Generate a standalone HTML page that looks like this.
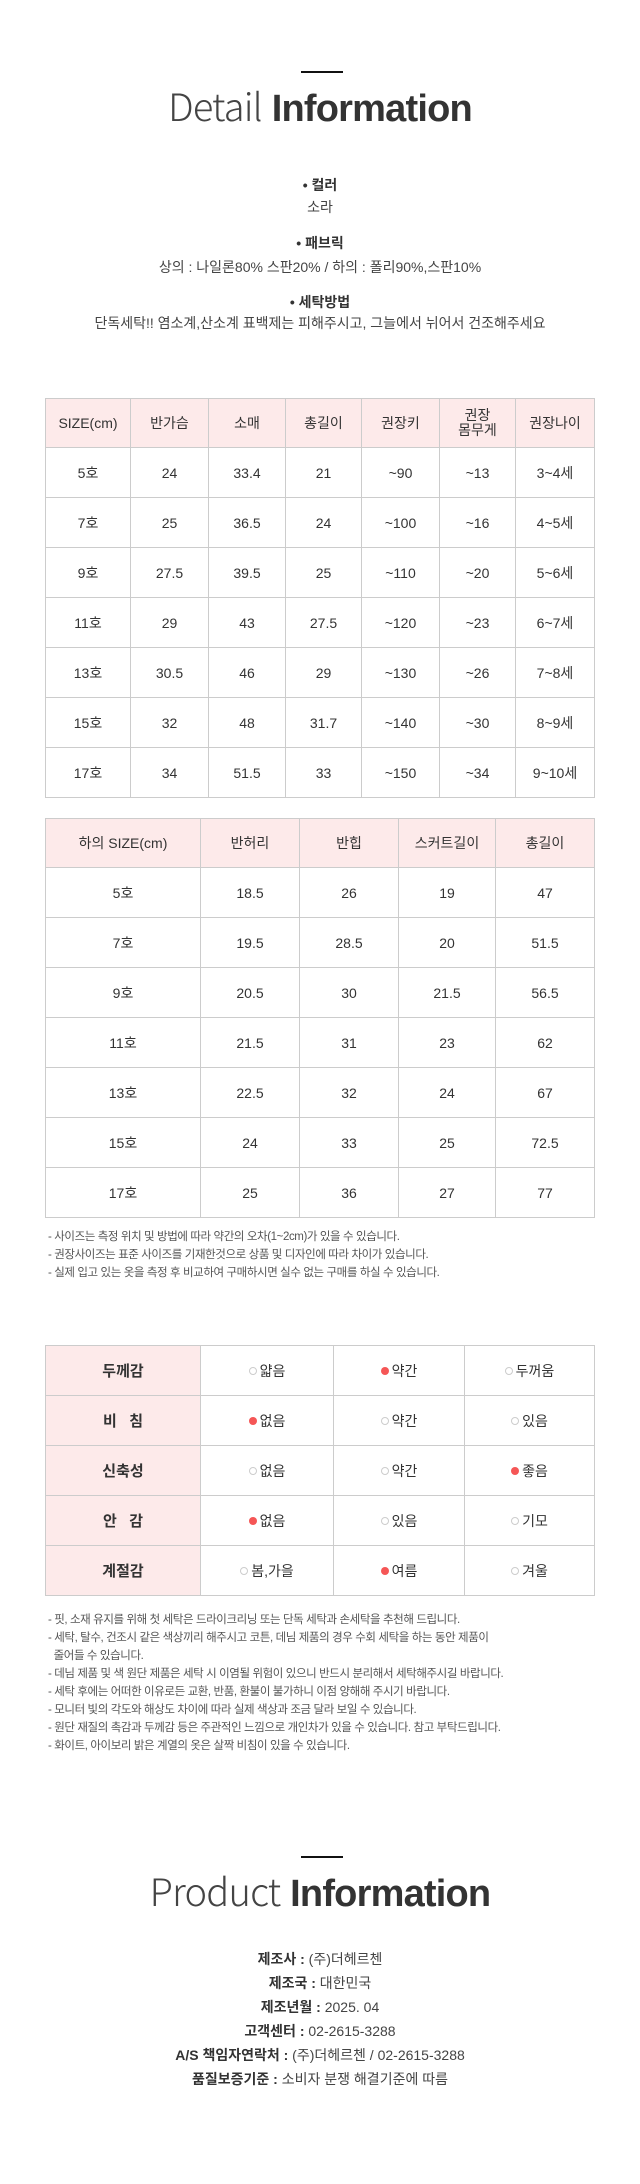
<!DOCTYPE html>
<html><head><meta charset="utf-8"><style>
*{margin:0;padding:0;box-sizing:border-box}
body{width:640px;height:2184px;background:#fff;position:relative;font-family:"Liberation Sans","Noto Sans CJK KR",sans-serif;color:#333;overflow:hidden}
.bar{position:absolute;left:301px;width:42px;height:2px;background:#111}
.title{position:absolute;left:0;width:640px;text-align:center;font-size:38px;line-height:40px;color:#333;letter-spacing:-0.8px}
.title .l{color:#444;font-family:"Noto Sans CJK KR","Liberation Sans",sans-serif;font-weight:300}
.title .b{font-weight:bold}
.c{position:absolute;left:0;width:640px;text-align:center;font-size:14px;line-height:18px;color:#444}
.c b{color:#333}
table{position:absolute;left:45px;width:549px;border-collapse:collapse;table-layout:fixed}
td{border:1px solid #ccc;text-align:center;font-size:14px;color:#333;height:50px;padding:0}
tr.h td{background:#fdeaea;height:49px;line-height:15px}
.note{position:absolute;left:48px;font-size:11.5px;line-height:18px;color:#555;letter-spacing:-0.4px}
.lab{background:#fdeaea;font-weight:bold;font-size:15px}
.d{display:inline-block;width:8px;height:8px;border-radius:50%;background:#f55656;margin-right:3px;vertical-align:1px}
.e{display:inline-block;width:8px;height:8px;border-radius:50%;border:1px solid #ccc;margin-right:3px;vertical-align:1px}
.p{position:absolute;left:0;width:640px;text-align:center;font-size:14px;line-height:24px;color:#444}
.p b{color:#333}
</style></head><body>
<div class="bar" style="top:71px"></div>
<div class="title" style="top:85px"><span class="l">Detail</span> <span class="b">Information</span></div>
<div class="c" style="top:176px"><b>• 컬러</b></div>
<div class="c" style="top:198px">소라</div>
<div class="c" style="top:234px"><b>• 패브릭</b></div>
<div class="c" style="top:258px">상의 : 나일론80% 스판20% / 하의 : 폴리90%,스판10%</div>
<div class="c" style="top:293px"><b>• 세탁방법</b></div>
<div class="c" style="top:314px">단독세탁!! 염소계,산소계 표백제는 피해주시고, 그늘에서 뉘어서 건조해주세요</div>

<table style="top:398px">
<colgroup><col style="width:85px"><col style="width:78px"><col style="width:77px"><col style="width:76px"><col style="width:78px"><col style="width:76px"><col style="width:79px"></colgroup>
<tr class="h"><td>SIZE(cm)</td><td>반가슴</td><td>소매</td><td>총길이</td><td>권장키</td><td>권장<br>몸무게</td><td>권장나이</td></tr>
<tr><td>5호</td><td>24</td><td>33.4</td><td>21</td><td>~90</td><td>~13</td><td>3~4세</td></tr>
<tr><td>7호</td><td>25</td><td>36.5</td><td>24</td><td>~100</td><td>~16</td><td>4~5세</td></tr>
<tr><td>9호</td><td>27.5</td><td>39.5</td><td>25</td><td>~110</td><td>~20</td><td>5~6세</td></tr>
<tr><td>11호</td><td>29</td><td>43</td><td>27.5</td><td>~120</td><td>~23</td><td>6~7세</td></tr>
<tr><td>13호</td><td>30.5</td><td>46</td><td>29</td><td>~130</td><td>~26</td><td>7~8세</td></tr>
<tr><td>15호</td><td>32</td><td>48</td><td>31.7</td><td>~140</td><td>~30</td><td>8~9세</td></tr>
<tr><td>17호</td><td>34</td><td>51.5</td><td>33</td><td>~150</td><td>~34</td><td>9~10세</td></tr>
</table>

<table style="top:818px">
<colgroup><col style="width:155px"><col style="width:99px"><col style="width:99px"><col style="width:97px"><col style="width:99px"></colgroup>
<tr class="h"><td>하의 SIZE(cm)</td><td>반허리</td><td>반힙</td><td>스커트길이</td><td>총길이</td></tr>
<tr><td>5호</td><td>18.5</td><td>26</td><td>19</td><td>47</td></tr>
<tr><td>7호</td><td>19.5</td><td>28.5</td><td>20</td><td>51.5</td></tr>
<tr><td>9호</td><td>20.5</td><td>30</td><td>21.5</td><td>56.5</td></tr>
<tr><td>11호</td><td>21.5</td><td>31</td><td>23</td><td>62</td></tr>
<tr><td>13호</td><td>22.5</td><td>32</td><td>24</td><td>67</td></tr>
<tr><td>15호</td><td>24</td><td>33</td><td>25</td><td>72.5</td></tr>
<tr><td>17호</td><td>25</td><td>36</td><td>27</td><td>77</td></tr>
</table>

<div class="note" style="top:1228px">- 사이즈는 측정 위치 및 방법에 따라 약간의 오차(1~2cm)가 있을 수 있습니다.<br>- 권장사이즈는 표준 사이즈를 기재한것으로 상품 및 디자인에 따라 차이가 있습니다.<br>- 실제 입고 있는 옷을 측정 후 비교하여 구매하시면 실수 없는 구매를 하실 수 있습니다.</div>

<table style="top:1345px">
<colgroup><col style="width:155px"><col style="width:133px"><col style="width:131px"><col style="width:130px"></colgroup>
<tr><td class="lab">두께감</td><td><span class="e"></span>얇음</td><td><span class="d"></span>약간</td><td><span class="e"></span>두꺼움</td></tr>
<tr><td class="lab">비&nbsp;&nbsp;&nbsp;침</td><td><span class="d"></span>없음</td><td><span class="e"></span>약간</td><td><span class="e"></span>있음</td></tr>
<tr><td class="lab">신축성</td><td><span class="e"></span>없음</td><td><span class="e"></span>약간</td><td><span class="d"></span>좋음</td></tr>
<tr><td class="lab">안&nbsp;&nbsp;&nbsp;감</td><td><span class="d"></span>없음</td><td><span class="e"></span>있음</td><td><span class="e"></span>기모</td></tr>
<tr><td class="lab">계절감</td><td><span class="e"></span>봄,가을</td><td><span class="d"></span>여름</td><td><span class="e"></span>겨울</td></tr>
</table>

<div class="note" style="top:1611px">- 핏, 소재 유지를 위해 첫 세탁은 드라이크리닝 또는 단독 세탁과 손세탁을 추천해 드립니다.<br>- 세탁, 탈수, 건조시 같은 색상끼리 해주시고 코튼, 데님 제품의 경우 수회 세탁을 하는 동안 제품이<br>&nbsp;&nbsp;줄어들 수 있습니다.<br>- 데님 제품 및 색 원단 제품은 세탁 시 이염될 위험이 있으니 반드시 분리해서 세탁해주시길 바랍니다.<br>- 세탁 후에는 어떠한 이유로든 교환, 반품, 환불이 불가하니 이점 양해해 주시기 바랍니다.<br>- 모니터 빛의 각도와 해상도 차이에 따라 실제 색상과 조금 달라 보일 수 있습니다.<br>- 원단 재질의 촉감과 두께감 등은 주관적인 느낌으로 개인차가 있을 수 있습니다. 참고 부탁드립니다.<br>- 화이트, 아이보리 밝은 계열의 옷은 살짝 비침이 있을 수 있습니다.</div>

<div class="bar" style="top:1856px"></div>
<div class="title" style="top:1870px"><span class="l">Product</span> <span class="b">Information</span></div>
<div class="p" style="top:1947px"><b>제조사 :</b> (주)더헤르첸</div>
<div class="p" style="top:1971px"><b>제조국 :</b> 대한민국</div>
<div class="p" style="top:1995px"><b>제조년월 :</b> 2025. 04</div>
<div class="p" style="top:2019px"><b>고객센터 :</b> 02-2615-3288</div>
<div class="p" style="top:2043px"><b>A/S 책임자연락처 :</b> (주)더헤르첸 / 02-2615-3288</div>
<div class="p" style="top:2067px"><b>품질보증기준 :</b> 소비자 분쟁 해결기준에 따름</div>
</body></html>
